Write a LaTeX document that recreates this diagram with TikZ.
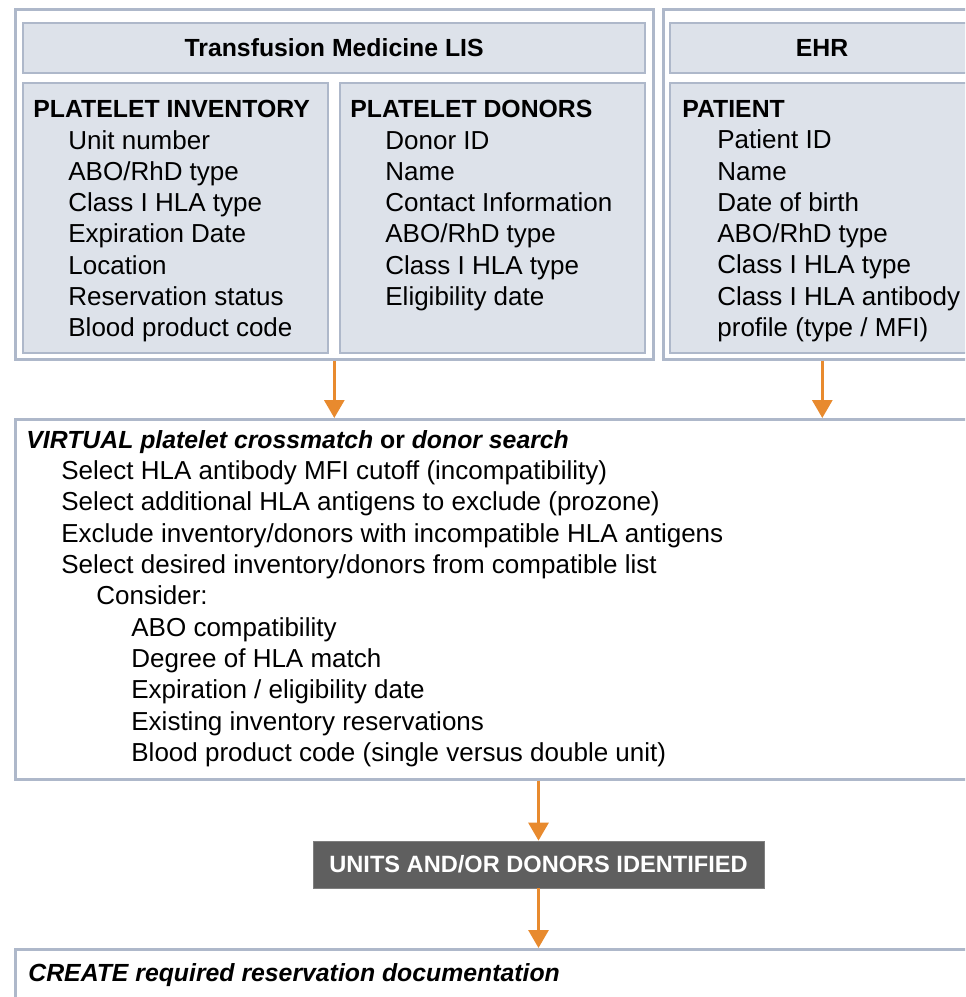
\documentclass[tikz,border=0pt]{standalone}
\usepackage{fontspec}
\setmainfont{Liberation Sans}
\usetikzlibrary{arrows.meta,positioning}
\definecolor{PanelLine}{HTML}{AEB8CA}
\definecolor{PanelFill}{HTML}{DDE2EA}
\definecolor{FlowOrange}{HTML}{E88A2E}
\definecolor{BannerGray}{HTML}{5F5F5F}
\newcommand\stepin{\hspace*{17.5pt}}
\newcommand\boxtitle[1]{{\fontsize{12.4}{15.65}\selectfont\bfseries #1}}
\tikzset{>=Stealth,frame/.style={draw=PanelLine,line width=1.3pt,fill=white,
 anchor=north west,inner sep=0pt},panel/.style={draw=PanelLine,line width=1.1pt,
 fill=PanelFill,anchor=north west,inner sep=0pt},list/.style={anchor=north west,
 inner sep=0pt,align=left,font=\fontsize{13}{15.65}\selectfont},
 head/.style={font=\fontsize{12.4}{15}\selectfont\bfseries},
 flow/.style={draw=FlowOrange,line width=1.5pt,-{Triangle[width=10pt,length=9pt]}},
 banner/.style={fill=BannerGray,draw=BannerGray!80,text=white,
 font=\fontsize{11.8}{14}\selectfont\bfseries,minimum width=225.5pt,minimum height=23.5pt}}

\begin{document}
\begin{tikzpicture}[x=0.5pt,y=-0.5pt]
\clip (0,0) rectangle (965,997);
\fill[white] (0,0) rectangle (965,997);
% laboratory system: header bar and two tables
\node[frame,minimum width=319pt,minimum height=175pt] (lis) at (14,8) {};
\node[panel,minimum width=311pt,minimum height=25pt] (lishead) at (22,22) {};
\node[head] (listitle) at (lishead.center) {Transfusion Medicine LIS};
\node[panel,minimum width=152.5pt,minimum height=135pt] (inv) at (22,82) {};
\node[panel,minimum width=152.5pt,minimum height=135pt] (don) at (339,82) {};
\node[list] (invtext) at (33,100) {\boxtitle{PLATELET INVENTORY}\\
 \stepin Unit number\\ \stepin ABO/RhD type\\ \stepin Class I HLA type\\
 \stepin Expiration Date\\ \stepin Location\\ \stepin Reservation status\\
 \stepin Blood product code};
\node[list] (dontext) at (350,100) {\boxtitle{PLATELET DONORS}\\
 \stepin Donor ID\\ \stepin Name\\ \stepin Contact Information\\
 \stepin ABO/RhD type\\ \stepin Class I HLA type\\ \stepin Eligibility date};
% health record
\node[frame,minimum width=159pt,minimum height=175pt] (ehr) at (662,8) {};
\node[panel,minimum width=152pt,minimum height=25pt] (ehrhead) at (669,22) {};
\node[head] (ehrtitle) at (ehrhead.center) {EHR};
\node[panel,minimum width=152pt,minimum height=135pt] (pat) at (669,82) {};
\node[list] (pattext) at (682,100) {\boxtitle{PATIENT}\\
 \stepin Patient ID\\ \stepin Name\\ \stepin Date of birth\\
 \stepin ABO/RhD type\\ \stepin Class I HLA type\\
 \stepin Class I HLA antibody\\ \stepin profile (type / MFI)};
% search step
\node[frame,minimum width=483pt,minimum height=180pt] (virt) at (14,418) {};
\node[list] (virttext) at (26,430) {\boxtitle{\itshape VIRTUAL platelet crossmatch
 \upshape or \itshape donor search}\\
 \stepin Select HLA antibody MFI cutoff (incompatibility)\\
 \stepin Select additional HLA antigens to exclude (prozone)\\
 \stepin Exclude inventory/donors with incompatible HLA antigens\\
 \stepin Select desired inventory/donors from compatible list\\
 \stepin\stepin Consider:\\
 \stepin\stepin\stepin ABO compatibility\\
 \stepin\stepin\stepin Degree of HLA match\\
 \stepin\stepin\stepin Expiration / eligibility date\\
 \stepin\stepin\stepin Existing inventory reservations\\
 \stepin\stepin\stepin Blood product code (single versus double unit)};
\node[banner] (units) at (538.5,864.5) {UNITS AND/OR DONORS IDENTIFIED};
\node[frame,minimum width=483pt,minimum height=31pt] (create) at (14,948) {};
\node[list] (createtext) at (28,963) {\boxtitle{\itshape CREATE required reservation documentation}};
% flow between steps
\draw[flow] (lis.south) -- (lis.south |- virt.north);
\draw[flow] (ehr.south) -- (ehr.south |- virt.north);
\draw[flow] (units.north |- virt.south) -- (units.north);
\draw[flow] (units.south) -- (units.south |- create.north);
\end{tikzpicture}
\end{document}
